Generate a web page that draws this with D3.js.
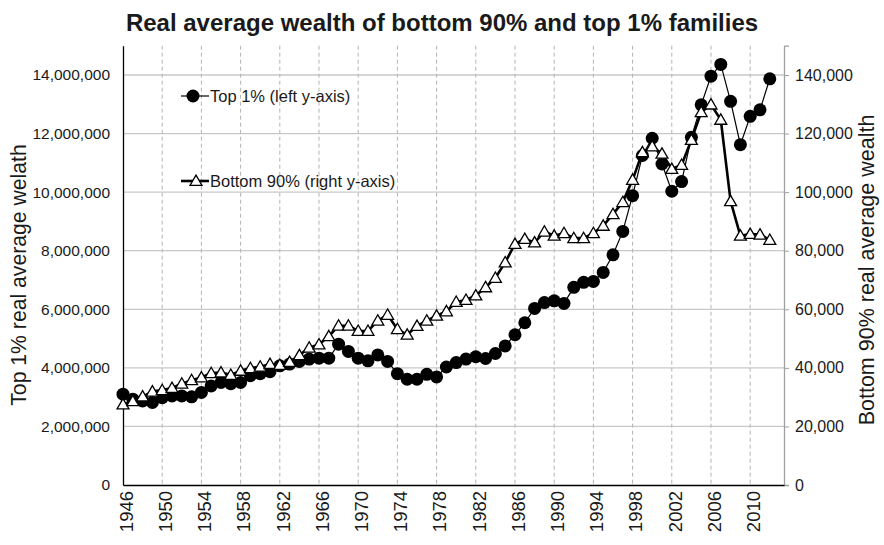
<!DOCTYPE html>
<html><head><meta charset="utf-8">
<script src="https://cdn.jsdelivr.net/npm/d3@7"></script>
<style>body{margin:0;background:#fff}svg{display:block;font-family:"Liberation Sans",Arial,sans-serif}</style>
</head><body><svg id="c" width="884" height="545"></svg>
<script>
const years = d3.range(1946, 2013);
const top1 = [3.10,2.93,2.87,2.82,2.98,3.04,3.04,3.01,3.16,3.38,3.50,3.46,3.50,3.73,3.80,3.87,4.07,4.13,4.22,4.30,4.33,4.33,4.81,4.56,4.33,4.24,4.44,4.22,3.80,3.61,3.61,3.78,3.69,4.03,4.18,4.30,4.38,4.32,4.49,4.75,5.13,5.54,6.03,6.23,6.29,6.20,6.75,6.92,6.95,7.26,7.86,8.66,9.88,11.25,11.84,10.96,10.03,10.36,11.87,12.98,13.96,14.36,13.10,11.62,12.59,12.81,13.87].map(v => v * 1e6);
const bottom90 = [27.5,28.6,30.2,31.9,32.4,33.1,34.6,35.8,36.7,38.2,38.4,37.6,39.0,39.9,40.4,41.3,41.0,42.0,44.3,46.9,48.0,50.8,54.4,54.4,52.6,52.6,56.1,58.1,53.2,51.3,54.3,56.1,57.8,59.3,62.5,63.2,64.7,67.5,70.7,76.0,82.3,84.0,82.8,86.5,85.1,86.0,84.3,84.3,86.0,88.5,92.5,96.6,104.2,113.6,115.6,113.1,107.9,109.3,117.8,127.3,129.9,124.7,96.9,85.1,85.7,85.5,83.7].map(v => v * 1e3);
const leftTicks = d3.range(0, 14000001, 2000000);
const rightTicks = d3.range(0, 140001, 20000);
const xTicks = d3.range(1946, 2011, 4);

const svg = d3.select("#c");
const L = 123, R = 784, T = 45.7, B = 485;
const x = d3.scaleLinear().domain([1946, 2013.45]).range([L, R]);
const yL = d3.scaleLinear().domain([0, 15000000]).range([B, T]);
const yR = d3.scaleLinear().domain([0, 150000]).range([B, T]);
const fmt = d3.format(",");

// gridlines
svg.append("g").selectAll("line").data(leftTicks.filter(d => d > 0)).join("line")
  .attr("x1", L).attr("x2", R).attr("y1", d => yL(d)).attr("y2", d => yL(d))
  .attr("stroke", "#c8c8c8").attr("stroke-width", 1.3);
svg.append("g").selectAll("line").data(xTicks.filter(d => d > 1946)).join("line")
  .attr("x1", d => x(d)).attr("x2", d => x(d)).attr("y1", T).attr("y2", B)
  .attr("stroke", "#b4b4b4").attr("stroke-width", 1).attr("stroke-dasharray", "4,3");

// axes
const axL = svg.append("g").attr("transform", `translate(${L},0)`)
  .call(d3.axisLeft(yL).tickValues(leftTicks).tickFormat(fmt).tickSize(0).tickPadding(13));
axL.select(".domain").attr("stroke", "#000").attr("stroke-width", 1.3);
axL.selectAll("text").attr("font-size", 15.5).attr("fill", "#1a1a1a").attr("font-family", "Liberation Sans, Arial");

const axR = svg.append("g").attr("transform", `translate(${R},0)`)
  .call(d3.axisRight(yR).tickValues(rightTicks).tickFormat(fmt).tickSize(5).tickPadding(6));
axR.select(".domain").attr("stroke", "#a0a0a0").attr("stroke-width", 1.3);
axR.selectAll(".tick line").attr("stroke", "#a0a0a0");
axR.selectAll("text").attr("font-size", 16).attr("fill", "#1a1a1a").attr("font-family", "Liberation Sans, Arial");

const axB = svg.append("g").attr("transform", `translate(0,${B})`)
  .call(d3.axisBottom(x).tickValues(xTicks).tickFormat(d => d).tickSize(0).tickPadding(6));
axB.select(".domain").attr("stroke", "#000").attr("stroke-width", 1.3);
axB.selectAll("text").attr("font-size", 18.5).attr("fill", "#1a1a1a").attr("font-family", "Liberation Sans, Arial")
  .attr("transform", "rotate(-90)").attr("text-anchor", "end").attr("dy", "0.5em").attr("x", -6).attr("y", 0);

// series
const lineTop = d3.line().x((d, i) => x(years[i])).y(d => yL(d));
const lineBot = d3.line().x((d, i) => x(years[i])).y(d => yR(d));
svg.append("path").datum(top1).attr("d", lineTop).attr("fill", "none").attr("stroke", "#000").attr("stroke-width", 1.2);
svg.append("g").selectAll("circle").data(top1).join("circle")
  .attr("cx", (d, i) => x(years[i])).attr("cy", d => yL(d)).attr("r", 6.5).attr("fill", "#000");

const tri = d3.symbol().type(d3.symbolTriangle).size(62);
svg.append("path").datum(bottom90).attr("d", lineBot).attr("fill", "none").attr("stroke", "#000").attr("stroke-width", 2.6);
svg.append("g").selectAll("path").data(bottom90).join("path")
  .attr("d", tri).attr("transform", (d, i) => `translate(${x(years[i])},${yR(d) + 1})`)
  .attr("fill", "#fff").attr("stroke", "#000").attr("stroke-width", 1.3);

// legend
const lg = svg.append("g");
lg.append("line").attr("x1", 181).attr("x2", 209).attr("y1", 96).attr("y2", 96).attr("stroke", "#000").attr("stroke-width", 1.2);
lg.append("circle").attr("cx", 193).attr("cy", 96).attr("r", 6.5).attr("fill", "#000");
lg.append("text").attr("x", 210).attr("y", 102).attr("font-size", 16.5).attr("fill", "#1a1a1a").text("Top 1% (left y-axis)");
lg.append("line").attr("x1", 181).attr("x2", 209).attr("y1", 181).attr("y2", 181).attr("stroke", "#000").attr("stroke-width", 2.6);
lg.append("path").attr("d", tri).attr("transform", "translate(196,182)").attr("fill", "#fff").attr("stroke", "#000").attr("stroke-width", 1.3);
lg.append("text").attr("x", 210).attr("y", 187).attr("font-size", 16.5).attr("fill", "#1a1a1a").text("Bottom 90% (right y-axis)");

// titles
svg.append("text").attr("x", 442).attr("y", 31).attr("text-anchor", "middle").attr("font-size", 24).attr("font-weight", "bold").attr("fill", "#1a1a1a")
  .text("Real average wealth of bottom 90% and top 1% families");
svg.append("text").attr("transform", "translate(26,275) rotate(-90)").attr("text-anchor", "middle").attr("font-size", 21.2).attr("fill", "#1a1a1a")
  .text("Top 1% real average welath");
svg.append("text").attr("transform", "translate(874,270) rotate(-90)").attr("text-anchor", "middle").attr("font-size", 21.5).attr("fill", "#1a1a1a")
  .text("Bottom 90% real average wealth");
</script></body></html>
